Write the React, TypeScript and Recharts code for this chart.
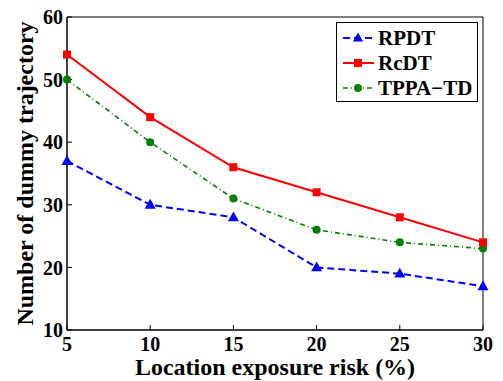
import { LineChart, Line, XAxis, YAxis, Label } from 'recharts';

const riskLevels = [5, 10, 15, 20, 25, 30];
const rpdtValues = [37, 30, 28, 20, 19, 17];
const rcdtValues = [54, 44, 36, 32, 28, 24];
const tppaValues = [50, 40, 31, 26, 24, 23];
const xTicks = [5, 10, 15, 20, 25, 30];
const yTicks = [10, 20, 30, 40, 50, 60];

const data = riskLevels.map((risk, i) => ({
  risk,
  RPDT: rpdtValues[i],
  RcDT: rcdtValues[i],
  'TPPA−TD': tppaValues[i],
}));

const FONT = "'Liberation Serif', 'Times New Roman', serif";

const Triangle = ({ cx, cy, size = 11 }: any) => {
  if (cx == null || cy == null) return null;
  const h = size * 0.9;
  return (
    <polygon
      points={`${cx},${cy - h * 0.6} ${cx - size / 2},${cy + h * 0.4} ${cx + size / 2},${cy + h * 0.4}`}
      fill="#0000ff"
    />
  );
};

const Square = ({ cx, cy, size = 8 }: any) => {
  if (cx == null || cy == null) return null;
  return <rect x={cx - size / 2} y={cy - size / 2} width={size} height={size} fill="#ff0000" />;
};

const Circle = ({ cx, cy, r = 4 }: any) => {
  if (cx == null || cy == null) return null;
  return <circle cx={cx} cy={cy} r={r} fill="#008000" />;
};

const legendItems = [
  { name: 'RPDT', color: '#0000ff', dash: '7 4', width: 2, marker: 'tri' },
  { name: 'RcDT', color: '#ff0000', dash: undefined, width: 2, marker: 'sq' },
  { name: 'TPPA−TD', color: '#008000', dash: '5 3 1 3', width: 1.5, marker: 'ci' },
];

// legend drawn as an overlay so it doesn't eat plot space
const LegendBox = () => (
  <div
    style={{
      position: 'absolute',
      left: 336,
      top: 22,
      width: 140,
      height: 78,
      border: '1.5px solid #000',
      background: '#fff',
    }}
  >
    <svg width={140} height={78} style={{ display: 'block' }}>
      {legendItems.map((item, i) => {
        const y = 15 + i * 25;
        return (
          <g key={item.name}>
            <line
              x1={6}
              x2={37}
              y1={y}
              y2={y}
              stroke={item.color}
              strokeWidth={item.width}
              strokeDasharray={item.dash}
            />
            {item.marker === 'tri' && <Triangle cx={21} cy={y} size={10} />}
            {item.marker === 'sq' && <Square cx={21} cy={y} size={8} />}
            {item.marker === 'ci' && <Circle cx={21} cy={y} r={4} />}
            <text
              x={41}
              y={y}
              dominantBaseline="central"
              fontFamily={FONT}
              fontWeight="bold"
              fontSize={21}
              fill="#000"
            >
              {item.name}
            </text>
          </g>
        );
      })}
    </svg>
  </div>
);

const YAxisTitle = ({ viewBox }: any) => {
  const cx = viewBox.x + 18;
  const cy = viewBox.y + viewBox.height / 2;
  return (
    <text
      x={cx}
      y={cy}
      transform={`rotate(-90, ${cx}, ${cy})`}
      textAnchor="middle"
      dominantBaseline="central"
      fontFamily={FONT}
      fontWeight="bold"
      fontSize={24}
      fill="#000"
    >
      Number of dummy trajectory
    </text>
  );
};

const tickStyle = { fill: '#000', fontSize: 20, fontWeight: 'bold', fontFamily: FONT };

export default function App() {
  return (
    <div style={{ position: 'absolute', left: 0, top: 0, width: 503, height: 381, background: '#fff' }}>
      <LineChart width={503} height={381} data={data} margin={{ top: 16, right: 19, bottom: 11, left: 7 }}>
        <XAxis
          xAxisId="bottom"
          dataKey="risk"
          type="number"
          domain={[5, 30]}
          ticks={xTicks}
          height={40}
          stroke="#000"
          tickSize={-5}
          tickMargin={12}
          tick={tickStyle}
          axisLine={{ stroke: '#000', strokeWidth: 1.5 }}
          tickLine={{ stroke: '#000' }}
        >
          <Label
            value="Location exposure risk (%)"
            position="insideBottom"
            offset={-5}
            style={{ fill: '#000', fontSize: 24, fontWeight: 'bold', fontFamily: FONT }}
          />
        </XAxis>
        <XAxis
          xAxisId="top"
          dataKey="risk"
          type="number"
          orientation="top"
          domain={[5, 30]}
          ticks={xTicks}
          height={1}
          tick={false}
          tickSize={-5}
          stroke="#000"
        />
        <YAxis
          yAxisId="left"
          type="number"
          domain={[10, 60]}
          ticks={yTicks}
          width={60}
          stroke="#000"
          tickSize={-5}
          tickMargin={9}
          tick={tickStyle}
          axisLine={{ stroke: '#000', strokeWidth: 1.5 }}
        >
          <Label content={<YAxisTitle />} />
        </YAxis>
        <YAxis
          yAxisId="right"
          orientation="right"
          type="number"
          domain={[10, 60]}
          ticks={yTicks}
          width={1}
          tick={false}
          tickSize={-5}
          stroke="#000"
        />
        <Line
          xAxisId="bottom"
          yAxisId="left"
          dataKey="RPDT"
          stroke="#0000ff"
          strokeWidth={2}
          strokeDasharray="7 4"
          dot={(p: any) => <Triangle key={`t${p.index}`} cx={p.cx} cy={p.cy} />}
          activeDot={false}
          isAnimationActive={false}
        />
        <Line
          xAxisId="bottom"
          yAxisId="left"
          dataKey="TPPA−TD"
          stroke="#008000"
          strokeWidth={1.6}
          strokeDasharray="5 3 1 3"
          dot={(p: any) => <Circle key={`c${p.index}`} cx={p.cx} cy={p.cy} />}
          activeDot={false}
          isAnimationActive={false}
        />
        <Line
          xAxisId="bottom"
          yAxisId="left"
          dataKey="RcDT"
          stroke="#ff0000"
          strokeWidth={2}
          dot={(p: any) => <Square key={`s${p.index}`} cx={p.cx} cy={p.cy} />}
          activeDot={false}
          isAnimationActive={false}
        />
      </LineChart>
      <LegendBox />
    </div>
  );
}
